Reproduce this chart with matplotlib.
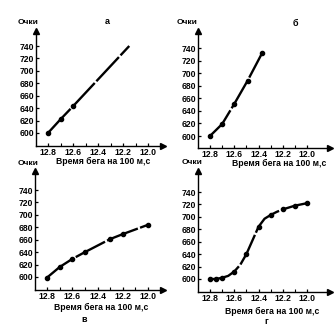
import numpy as np
import matplotlib
matplotlib.use('Agg')
import matplotlib.pyplot as plt

plt.rcParams['font.family'] = ['Liberation Sans Narrow', 'Liberation Sans', 'DejaVu Sans']
plt.rcParams['font.weight'] = 'bold'

W, H = 334, 332

# run time (s) vs points for the four scoring tables
t_a = [12.8, 12.7, 12.6, 12.15]
p_a = [600, 622, 643, 740]

t_b = [12.8, 12.7, 12.6, 12.49, 12.37]
p_b = [600, 619, 651, 688, 732]

t_v = [12.8, 12.7, 12.6, 12.5, 12.3, 12.2, 12.0]
p_v = [599, 616, 629, 640, 661, 669, 684]

t_g = [12.8, 12.75, 12.7, 12.65, 12.6, 12.55, 12.5, 12.45, 12.4,
       12.35, 12.3, 12.25, 12.2, 12.15, 12.1, 12.05, 12.0]
p_g = [600, 600, 602, 605, 612, 623, 640, 662, 684,
       697, 703, 708, 712, 715, 718, 720, 722]

xticks = [12.8, 12.6, 12.4, 12.2, 12.0]
xticklabels = ['12.8', '12.6', '12.4', '12.2', '12.0']
yticks = [600, 620, 640, 660, 680, 700, 720, 740]

ylabel = 'Очки'
xlabel = 'Время бега на 100 м,с'

fig = plt.figure(figsize=(W / 100, H / 100), dpi=100)
fig.patch.set_facecolor('white')


def make_axes(left, bottom, right, top, x128, x120, y600, y740):
    # axes placed in pixel coordinates, limits derived from tick pixel positions
    ax = fig.add_axes([left / W, 1 - bottom / H, (right - left) / W, (bottom - top) / H])
    kx = 0.8 / (x120 - x128)
    ky = 140 / (y600 - y740)
    ax.set_xlim(12.8 + (x128 - left) * kx, 12.8 - (right - x128) * kx)
    ax.set_ylim(600 - (bottom - y600) * ky, 740 + (y740 - top) * ky)
    for s in ['top', 'right']:
        ax.spines[s].set_visible(False)
    for s in ['left', 'bottom']:
        ax.spines[s].set_linewidth(1.0)
    ax.set_xticks(xticks)
    ax.set_xticklabels(xticklabels)
    ax.set_yticks(yticks)
    ax.tick_params(direction='in', length=2.5, width=0.9, labelsize=6.2, pad=1.5)
    ax.set_xticks([12.7, 12.5, 12.3, 12.1], minor=True)
    ax.tick_params(which='minor', direction='in', length=2, width=0.8)
    ax.plot([0], [1], marker='^', color='black', markersize=4,
            transform=ax.transAxes, clip_on=False)
    ax.plot([1], [0], marker='>', color='black', markersize=4,
            transform=ax.transAxes, clip_on=False)
    return ax


def draw_curve(ax, t, p, marks):
    ax.plot(t, p, color='black', lw=1.7, ls=(0, (14, 1.0)))
    ax.plot([t[i] for i in marks], [p[i] for i in marks], 'o', color='black',
            markersize=3)


def ftext(x, y, s, size=6.2):
    fig.text(x / W, 1 - y / H, s, ha='center', va='center', fontsize=size,
             fontweight='bold')


ax_a = make_axes(36, 146, 163, 31, 48, 148, 133, 46)
draw_curve(ax_a, t_a, p_a, [0, 1, 2])
ftext(28, 23, ylabel, 6)
ftext(107, 22, 'а', 6.5)
ftext(103, 161, xlabel)

ax_b = make_axes(198, 148, 330, 31, 210, 307, 136, 48)
draw_curve(ax_b, t_b, p_b, [0, 1, 2, 3, 4])
ftext(187, 23, ylabel, 6)
ftext(295, 23, 'б', 6.5)
ftext(279, 163, xlabel)

ax_v = make_axes(35, 290, 163, 171, 47, 148, 277, 190)
draw_curve(ax_v, t_v, p_v, range(len(t_v)))
ftext(28, 164, ylabel, 6)
ftext(101, 307, xlabel)
ftext(84, 320, 'в', 6.5)

ax_g = make_axes(198, 292, 330, 171, 210, 307, 279, 192)
draw_curve(ax_g, t_g, p_g, [0, 1, 2, 4, 6, 8, 10, 12, 14, 16])
ftext(192, 163, ylabel, 6)
ftext(272, 311, xlabel)
ftext(266, 321, 'г', 6.5)

fig.savefig('out.png', dpi=100, facecolor='white')
